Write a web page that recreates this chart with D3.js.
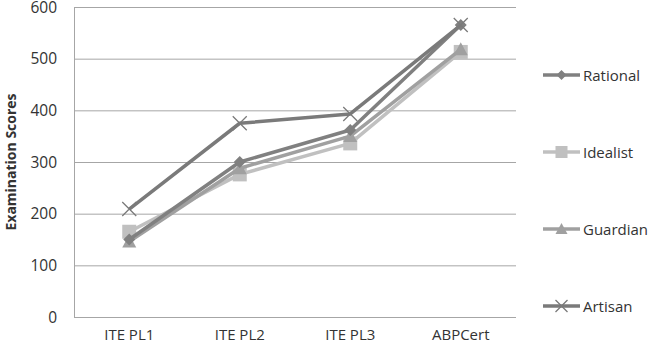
<!DOCTYPE html>
<html>
<head>
<meta charset="utf-8">
<script src="https://cdn.jsdelivr.net/npm/d3@7"></script>
<style>
  body { margin: 0; background: #fff; }
  text { font-family: "Open Sans", "Liberation Sans", sans-serif; fill: #333; }
</style>
</head>
<body>
<div id="chart"></div>
<script>
var categories = ["ITE PL1", "ITE PL2", "ITE PL3", "ABPCert"];
var seriesNames = ["Rational", "Idealist", "Guardian", "Artisan"];
var rational = [150, 300, 362, 565];
var idealist = [165, 276, 336, 513];
var guardian = [146, 288, 350, 518];
var artisan = [209, 375, 393, 565];
var yTicks = [0, 100, 200, 300, 400, 500, 600];

var seriesData = [rational, idealist, guardian, artisan];
var colors = ["#808080", "#c0c0c0", "#a0a0a0", "#7a7a7a"];
var symbols = ["diamond", "square", "triangle", "cross"];

var width = 650, height = 346;
var margin = {top: 7, left: 74, right: 134, bottom: 29};

var svg = d3.select("#chart")
  .append("svg")
    .attr("width", width)
    .attr("height", height);

var x = d3.scaleBand()
  .domain(categories)
  .range([margin.left, width - margin.right]);

var y = d3.scaleLinear()
  .domain([0, 600])
  .range([height - margin.bottom, margin.top]);

// gridlines
svg.append("g")
  .selectAll("line")
  .data(yTicks)
  .enter()
  .append("line")
    .attr("x1", margin.left)
    .attr("x2", width - margin.right)
    .attr("y1", function(d) { return y(d) + 0.5; })
    .attr("y2", function(d) { return y(d) + 0.5; })
    .attr("stroke", "#a6a6a6")
    .attr("stroke-width", 1);

// left axis line
svg.append("line")
  .attr("x1", margin.left + 0.5)
  .attr("x2", margin.left + 0.5)
  .attr("y1", y(600))
  .attr("y2", y(0) + 1)
  .attr("stroke", "#a6a6a6");

// y tick labels
svg.append("g")
  .selectAll("text")
  .data(yTicks)
  .enter()
  .append("text")
    .attr("x", margin.left - 17)
    .attr("y", function(d) { return y(d) + 5.5; })
    .attr("text-anchor", "end")
    .style("font-size", "15.5px")
    .text(function(d) { return d; });

// x tick labels
svg.append("g")
  .selectAll("text")
  .data(categories)
  .enter()
  .append("text")
    .attr("x", function(d) { return x(d) + x.bandwidth() / 2; })
    .attr("y", 340)
    .attr("text-anchor", "middle")
    .style("font-size", "15px")
    .text(function(d) { return d; });

// y axis title
svg.append("text")
  .attr("transform", "translate(16," + y(300) + ") rotate(-90)")
  .attr("text-anchor", "middle")
  .style("font-size", "14px")
  .style("font-weight", "bold")
  .text("Examination Scores");

function drawMarker(g, kind, color, size) {
  var s = size;
  if (kind === "diamond") {
    g.append("path").attr("d", "M0," + (-s) + "L" + s + ",0L0," + s + "L" + (-s) + ",0Z").attr("fill", color);
  } else if (kind === "square") {
    g.append("rect").attr("x", -s).attr("y", -s).attr("width", 2 * s).attr("height", 2 * s).attr("fill", color);
  } else if (kind === "triangle") {
    g.append("path").attr("d", "M0," + (-s) + "L" + s + "," + (s * 0.85) + "L" + (-s) + "," + (s * 0.85) + "Z").attr("fill", color);
  } else {
    g.append("path").attr("d", "M" + (-s) + "," + (-s) + "L" + s + "," + s + "M" + s + "," + (-s) + "L" + (-s) + "," + s)
      .attr("stroke", color).attr("stroke-width", 1.3).attr("fill", "none");
  }
}

var line = d3.line()
  .x(function(d, i) { return x(categories[i]) + x.bandwidth() / 2; })
  .y(function(d) { return y(d); });

var markerSize = [6, 7, 7, 7];

// draw order: Idealist, Guardian, Rational, Artisan so darker lines stay on top
[1, 2, 0, 3].forEach(function(k) {
  var g = svg.append("g");
  g.append("path")
    .datum(seriesData[k])
    .attr("d", line)
    .attr("fill", "none")
    .attr("stroke", colors[k])
    .attr("stroke-width", 3.5)
    .attr("stroke-linejoin", "round");
  seriesData[k].forEach(function(v, i) {
    var mg = g.append("g")
      .attr("transform", "translate(" + (x(categories[i]) + x.bandwidth() / 2) + "," + y(v) + ")");
    drawMarker(mg, symbols[k], colors[k], markerSize[k]);
  });
});

// legend
var legendY = [75, 152, 229, 306];
var legend = svg.append("g");
seriesNames.forEach(function(name, k) {
  var lg = legend.append("g").attr("transform", "translate(543," + legendY[k] + ")");
  lg.append("line")
    .attr("x1", 0).attr("x2", 37)
    .attr("y1", 0).attr("y2", 0)
    .attr("stroke", colors[k])
    .attr("stroke-width", 3.5);
  var mg = lg.append("g").attr("transform", "translate(18.5,0)");
  drawMarker(mg, symbols[k], colors[k], k === 0 ? 5 : 6);
  lg.append("text")
    .attr("x", 40)
    .attr("y", 5.5)
    .style("font-size", "15px")
    .text(name);
});
</script>
</body>
</html>
